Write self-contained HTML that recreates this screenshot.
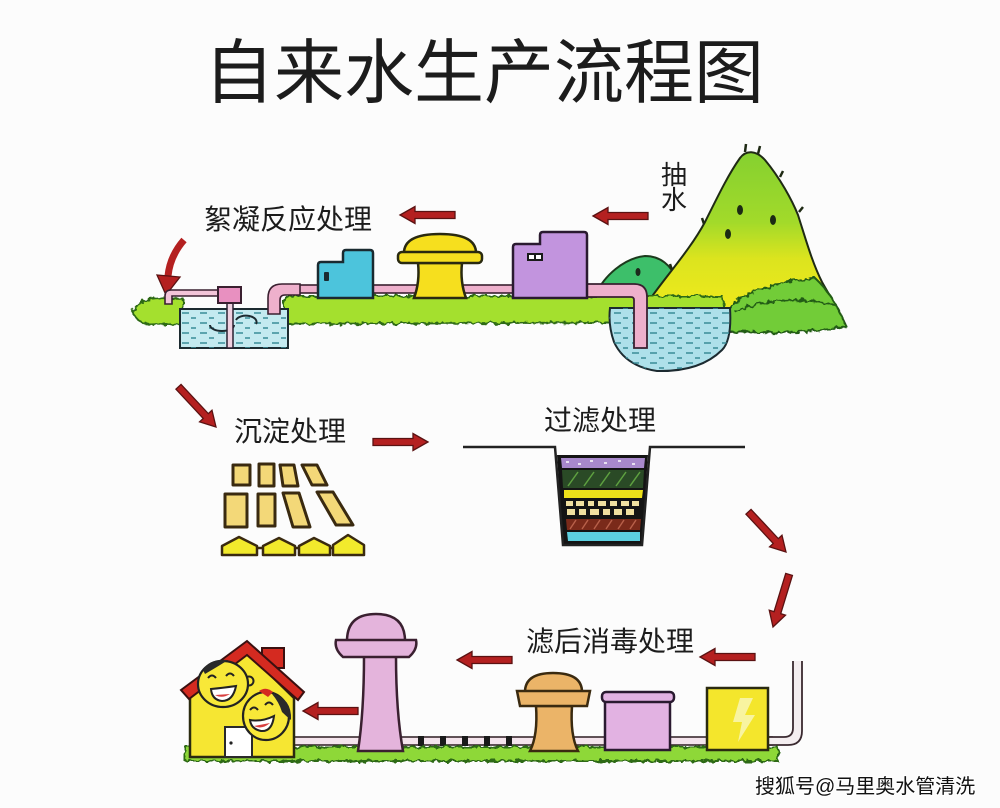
<!DOCTYPE html>
<html><head><meta charset="utf-8">
<style>
html,body{margin:0;padding:0;background:#fcfcfc;}
svg{display:block;}
text{font-family:"Liberation Sans","Noto Sans CJK SC",sans-serif;fill:#1c1c1c;}
</style></head><body>
<svg width="1000" height="808" viewBox="0 0 1000 808" xmlns="http://www.w3.org/2000/svg">
<defs>
 <linearGradient id="mt" x1="0" y1="150" x2="0" y2="310" gradientUnits="userSpaceOnUse">
  <stop offset="0" stop-color="#84d030"/>
  <stop offset="0.45" stop-color="#a2da2a"/>
  <stop offset="0.68" stop-color="#dce41e"/>
  <stop offset="1" stop-color="#efea1c"/>
 </linearGradient>
 <pattern id="wd" width="18" height="10" patternUnits="userSpaceOnUse">
  <path d="M2 3h7M11 8h5" stroke="#3a8c98" stroke-width="1.6"/>
 </pattern>
 <filter id="rough" x="-5%" y="-30%" width="110%" height="160%">
  <feTurbulence type="fractalNoise" baseFrequency="0.18" numOctaves="2" seed="3"/>
  <feDisplacementMap in="SourceGraphic" scale="6"/>
 </filter>
 <path id="al" d="M0 0 L15 -8.5 L15 -3.5 L55 -3.5 L55 3.5 L15 3.5 L15 8.5 Z" fill="#b42020" stroke="#5a1212" stroke-width="1.3"/>
</defs>

<!-- Title -->
<text x="204" y="97" font-size="70">自来水生产流程图</text>

<!-- ===== TOP SECTION ===== -->
<text x="204" y="229" font-size="28">絮凝反应处理</text>
<text x="661" y="184" font-size="26">抽</text>
<text x="661" y="209" font-size="26">水</text>

<use href="#al" transform="translate(400,215)"/>
<use href="#al" transform="translate(593,216)"/>
<!-- curved arrow top-left -->
<path d="M184 240 Q170 256 168 276" stroke="#b42020" stroke-width="7" fill="none"/>
<path d="M157 275 L180 277 L166 295 Z" fill="#b42020" stroke="#5a1212" stroke-width="1.3"/>

<!-- small green hill -->
<path d="M596 294 C604 276 624 258 645 256 C661 256 671 266 676 278 L662 298 Z" fill="#3dbf6a" stroke="#1c3a1c" stroke-width="2"/>
<ellipse cx="638" cy="272" rx="2.5" ry="4" fill="#1c2a1c"/>
<!-- mountain -->
<path d="M648 302 C666 276 690 250 705 222 C718 196 728 175 740 158 C746 150 756 150 765 160 C780 178 792 200 798 215 C806 240 812 262 822 282 C832 300 842 315 846 326 L728 332 L648 312 Z" fill="url(#mt)" stroke="#1f2a14" stroke-width="2"/>
<ellipse cx="740" cy="210" rx="3" ry="5" fill="#1c2a14"/>
<ellipse cx="773" cy="220" rx="3" ry="5" fill="#1c2a14"/>
<ellipse cx="728" cy="234" rx="3" ry="5" fill="#1c2a14"/>
<path d="M745 152l1 -8M758 154l2 -8M780 177l3 -6M799 212l4 -5M704 224l-2 -6M672 270l-2 -6" stroke="#1f2a14" stroke-width="2.5"/>
<!-- mountain grass -->
<g filter="url(#rough)">
<path d="M722 331 C725 310 735 296 760 290 C780 283 800 278 815 278 C828 290 840 310 846 326 C820 333 770 334 722 331 Z" fill="#72cc38" stroke="#245c14" stroke-width="2"/>
<path d="M735 312 C760 300 800 296 835 305" stroke="#245c14" stroke-width="2" fill="none"/>
</g>

<!-- ground grass top -->
<g filter="url(#rough)">
<path d="M284 296 L722 296 L726 322 L284 324 Z" fill="#a4e02e" stroke="#2e6a16" stroke-width="2"/>
<path d="M133 311 Q140 298 160 298 L183 299 L183 324 L150 325 Q135 322 133 311 Z" fill="#a4e02e" stroke="#2e6a16" stroke-width="2"/>
</g>

<!-- lake -->
<path d="M610 308 L730 308 Q732 340 722 350 Q700 372 657 371 Q625 366 614 342 Q608 325 610 308 Z" fill="#aee0ea" stroke="#1c2a30" stroke-width="2"/>
<path d="M610 308 L730 308 Q732 340 722 350 Q700 372 657 371 Q625 366 614 342 Q608 325 610 308 Z" fill="url(#wd)"/>

<!-- tank -->
<rect x="180" y="309" width="108" height="39" fill="#c4eaf0" stroke="#1c2a30" stroke-width="2"/>
<rect x="180" y="309" width="108" height="39" fill="url(#wd)"/>
<path d="M210 325 a12 6 0 1 0 24 0" stroke="#1c2a30" stroke-width="2" fill="none"/>
<path d="M236 320 a10 6 0 1 1 20 4" stroke="#1c2a30" stroke-width="2" fill="none"/>

<!-- pipes top -->
<path d="M165 304 L165 296 Q165 290 171 290 L220 290 L220 296 L172 296 L172 304 Z" fill="#f2c4d8" stroke="#3a2030" stroke-width="1.6"/>
<rect x="280" y="285" width="330" height="8" fill="#eeb0cc" stroke="#3a2030" stroke-width="1.6"/>
<path d="M300 284 L282 284 Q268 284 268 298 L268 314 L280 314 L280 300 Q280 295 285 295 L300 295 Z" fill="#eeb0cc" stroke="#3a2030" stroke-width="1.6"/>
<path d="M586 284 L634 284 Q647 284 647 297 L647 348 L634 348 L634 300 Q634 297 631 297 L586 297 Z" fill="#eeb0cc" stroke="#3a2030" stroke-width="1.8"/>
<!-- mixer -->
<rect x="227" y="300" width="6" height="48" fill="#f0d0e0" stroke="#2a2030" stroke-width="1.5"/>
<rect x="218" y="287" width="23" height="16" fill="#e890c0" stroke="#3a2030" stroke-width="2"/>

<!-- blue building -->
<path d="M318 298 L318 265 Q318 262 321 262 L343 262 L343 253 Q343 250 346 250 L370 250 Q373 250 373 253 L373 298 Z" fill="#4cc4dc" stroke="#1a2a30" stroke-width="2.5"/>
<rect x="324" y="272" width="5" height="9" rx="1" fill="#1a2a30"/>
<!-- yellow dome -->
<path d="M418 263 L462 263 Q460 282 466 298 L414 298 Q420 282 418 263 Z" fill="#f6df1e" stroke="#2a2a10" stroke-width="2.5"/>
<path d="M404 253 Q404 234 440 234 Q476 234 476 253 Z" fill="#f6df1e" stroke="#2a2a10" stroke-width="2.5"/>
<rect x="398" y="252" width="84" height="11" rx="4" fill="#f6df1e" stroke="#2a2a10" stroke-width="2.5"/>
<!-- purple building -->
<path d="M513 298 L513 247 Q513 244 516 244 L540 244 L540 235 Q540 232 543 232 L584 232 Q587 232 587 235 L587 298 Z" fill="#c294de" stroke="#2a1a30" stroke-width="2.5"/>
<rect x="527" y="253" width="16" height="8" fill="#1a1a1a"/>
<rect x="529" y="255" width="5" height="4" fill="#fff"/>
<rect x="536" y="255" width="5" height="4" fill="#fff"/>

<!-- ===== MIDDLE ===== -->
<g transform="translate(216,427) rotate(-133)"><use href="#al"/></g>
<text x="234" y="441" font-size="28">沉淀处理</text>
<use href="#al" transform="translate(428,442) scale(-1,1)"/>
<text x="544" y="430" font-size="28">过滤处理</text>

<!-- settling tanks -->
<g fill="#f3d878" stroke="#3a2a10" stroke-width="3" stroke-linejoin="round">
 <rect x="233" y="465" width="17" height="20"/>
 <rect x="259" y="464" width="15" height="22"/>
 <path d="M280 465 L294 465 L298 486 L283 486 Z"/>
 <path d="M302 465 L317 465 L327 485 L312 485 Z"/>
 <rect x="225" y="494" width="22" height="33"/>
 <rect x="258" y="494" width="17" height="32"/>
 <path d="M283 493 L299 493 L310 527 L293 527 Z"/>
 <path d="M317 492 L333 492 L353 525 L336 525 Z"/>
</g>
<g fill="#f2ea2c" stroke="#3a2a10" stroke-width="2.5" stroke-linejoin="round">
 <path d="M222 555 L222 546 L239 537 L257 546 L257 555 Z"/>
 <path d="M263 555 L263 546 L279 538 L295 546 L295 555 Z"/>
 <path d="M299 555 L299 546 L314 538 L330 546 L330 555 Z"/>
 <path d="M333 555 L333 545 L348 535 L364 545 L364 555 Z"/>
 <path d="M257 548 L263 548 M295 548 L299 548 M330 548 L333 548" fill="none"/>
</g>

<!-- filter -->
<path d="M557 455 L648 455 L642 545 L563 545 Z" fill="#141414"/>
<path d="M463 447 L555 447 L563 545 L642 545 L650 447 L745 447" fill="none" stroke="#222" stroke-width="2.5"/>
<path d="M561 458 L645 458 L644 468 L562 468 Z" fill="#a888cc"/>
<path d="M566 462h3M578 464h3M590 461h3M604 463h3M618 461h3M632 464h3" stroke="#e8e0f0" stroke-width="2"/>
<path d="M562 470 L644 470 L643 488 L563 488 Z" fill="#2a4a26"/>
<path d="M568 486l10 -14M584 486l10 -14M600 486l10 -14M616 486l10 -14M630 486l10 -14" stroke="#5ea040" stroke-width="1.5"/>
<path d="M564 490 L643 490 L642 498 L564 498 Z" fill="#ece01a"/>
<g fill="#f0e0a0">
 <rect x="566" y="501" width="7" height="5"/><rect x="576" y="501" width="8" height="5"/><rect x="588" y="501" width="6" height="5"/><rect x="598" y="501" width="8" height="5"/><rect x="610" y="501" width="7" height="5"/><rect x="621" y="501" width="8" height="5"/><rect x="632" y="501" width="7" height="5"/>
 <rect x="567" y="509" width="8" height="6"/><rect x="579" y="509" width="7" height="6"/><rect x="590" y="509" width="9" height="6"/><rect x="603" y="509" width="7" height="6"/><rect x="614" y="509" width="8" height="6"/><rect x="626" y="509" width="8" height="6"/>
</g>
<path d="M566 519 L641 519 L640 530 L567 530 Z" fill="#7a2a1a"/>
<path d="M570 529l6 -9M582 529l6 -9M594 529l6 -9M606 529l6 -9M618 529l6 -9M630 529l6 -9" stroke="#b8604a" stroke-width="1.4"/>
<path d="M567 532 L640 532 L640 541 L568 541 Z" fill="#5cd0e0"/>

<!-- right arrows -->
<g transform="translate(786,552) rotate(-133)"><use href="#al"/></g>
<g transform="translate(773,627) rotate(-73)"><use href="#al"/></g>

<!-- ===== BOTTOM ===== -->
<text x="526" y="651" font-size="28">滤后消毒处理</text>
<use href="#al" transform="translate(700,657)"/>
<use href="#al" transform="translate(457,660)"/>
<use href="#al" transform="translate(303,711)"/>

<!-- pipes bottom -->
<rect x="288" y="737" width="484" height="8" fill="#f4e4ec" stroke="#3a2a30" stroke-width="1.6"/>
<g fill="#1a1a1a">
 <rect x="418" y="736" width="6" height="10"/><rect x="440" y="736" width="6" height="10"/><rect x="462" y="736" width="6" height="10"/><rect x="484" y="736" width="6" height="10"/><rect x="506" y="736" width="6" height="10"/>
</g>
<path d="M793 661 L793 728 Q793 737 784 737 L768 737 L768 745 L788 745 Q802 745 802 731 L802 661" fill="#f4eef0" stroke="#3a2a30" stroke-width="1.8"/>

<!-- bottom grass -->
<g filter="url(#rough)">
<path d="M185 747 L778 747 L778 761 L185 761 Z" fill="#8ed838" stroke="#2e6a16" stroke-width="2"/>
</g>

<!-- yellow box -->
<rect x="707" y="688" width="61" height="62" fill="#f4e62c" stroke="#2a2a10" stroke-width="2.5"/>
<path d="M740 698 L753 698 L745 715 L755 715 L738 742 L742 722 L733 722 Z" fill="#f8f4a0"/>
<!-- pink box -->
<rect x="605" y="700" width="65" height="50" fill="#e2b2e2" stroke="#2a1a30" stroke-width="2.5"/>
<rect x="602" y="692" width="72" height="10" rx="4" fill="#e2b2e2" stroke="#2a1a30" stroke-width="2.5"/>
<!-- orange dome -->
<path d="M536 706 L572 706 Q570 735 578 751 L530 751 Q538 735 536 706 Z" fill="#ebb468" stroke="#3a2a10" stroke-width="2.5"/>
<path d="M525 692 Q525 673 553 673 Q582 673 582 692 Z" fill="#ebb468" stroke="#3a2a10" stroke-width="2.5"/>
<path d="M517 691 L590 691 L587 706 L520 706 Z" fill="#ebb468" stroke="#3a2a10" stroke-width="2.5"/>
<!-- pink tower -->
<path d="M364 656 L396 656 Q396 712 403 751 L358 751 Q364 712 364 656 Z" fill="#e4b4dc" stroke="#3a2030" stroke-width="2.5"/>
<path d="M347 641 Q347 614 376 614 Q405 614 405 641 Z" fill="#e4b4dc" stroke="#3a2030" stroke-width="2.5"/>
<path d="M336 640 L416 640 Q418 649 409 657 L343 657 Q334 649 336 640 Z" fill="#e4b4dc" stroke="#3a2030" stroke-width="2.5"/>

<!-- house -->
<path d="M190 697 L247 652 L294 698 L294 757 L190 757 Z" fill="#f6e632" stroke="#2a2a10" stroke-width="2.5"/>
<rect x="262" y="648" width="22" height="20" fill="#d42a20" stroke="#3a1010" stroke-width="2"/>
<path d="M181 690 L247 641 L304 692 L298 700 L247 655 L189 699 Z" fill="#d42a20" stroke="#3a1010" stroke-width="2"/>
<rect x="225" y="727" width="27" height="30" fill="#fff" stroke="#2a2a2a" stroke-width="2"/>
<circle cx="231" cy="743" r="1.6" fill="#222"/>
<!-- face 1 -->
<circle cx="249" cy="681" r="4.5" fill="#f8e838" stroke="#222" stroke-width="2"/>
<ellipse cx="223" cy="684" rx="25" ry="23" fill="#f8e838" stroke="#222" stroke-width="2.2"/>
<path d="M203 670 Q210 658 228 660 Q222 664 205 674 Z" fill="#2a2a2a"/>
<path d="M208 678 q4 -5 8 0 M226 676 q4 -5 8 0" stroke="#222" stroke-width="2" fill="none"/>
<path d="M211 689 Q222 688 236 686 Q233 701 222 701 Q212 700 211 689 Z" fill="#fff" stroke="#222" stroke-width="2"/>
<path d="M215 695 Q222 699 230 694" fill="#d84040"/>
<!-- face 2 -->
<ellipse cx="266" cy="716" rx="23" ry="24" fill="#f8e838" stroke="#222" stroke-width="2.2"/>
<path d="M272 694 Q292 698 291 720 Q286 716 282 712 Q279 702 272 694 Z" fill="#2a2a2a"/>
<path d="M259 691 Q266 686 273 692 L268 697 Z" fill="#d42a20"/>
<path d="M250 710 q4 -5 8 0 M265 705 q4 -5 8 0" stroke="#222" stroke-width="2" fill="none"/>
<path d="M250 720 Q262 722 274 716 Q272 732 261 731 Q251 729 250 720 Z" fill="#fff" stroke="#222" stroke-width="2"/>
<path d="M254 726 Q262 730 270 723" fill="#d84040"/>

<!-- watermark -->
<text x="755" y="793" font-size="20" style="fill:#111;paint-order:stroke;stroke:#ffffff;stroke-width:2px">搜狐号@马里奥水管清洗</text>
</svg>
</body></html>
